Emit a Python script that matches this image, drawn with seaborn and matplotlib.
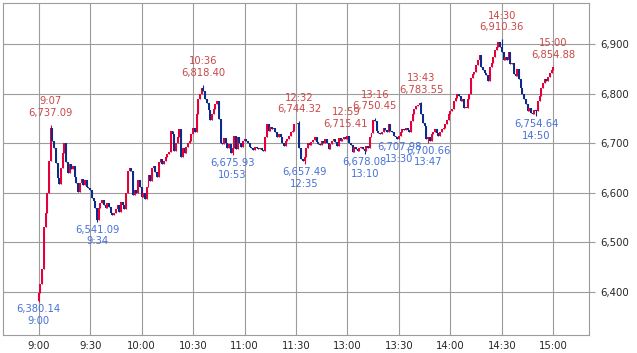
import seaborn as sns
import matplotlib.pyplot as plt
import numpy as np
import pandas as pd

# 1-minute prices (close of each minute)
first_open = 6382.0

# 9:00 - 11:29
closes_am = [
    6397, 6415, 6446, 6530, 6560, 6600, 6665, 6730, 6705, 6690,
    6660, 6630, 6618, 6650, 6680, 6700, 6662, 6640, 6658, 6648,
    6655, 6632, 6620, 6602, 6620, 6628, 6615, 6625, 6612, 6610,
    6606, 6590, 6584, 6570, 6545, 6570, 6580, 6585, 6575, 6570,
    6580, 6572, 6560, 6555, 6560, 6568, 6575, 6562, 6582, 6575,
    6568, 6600, 6645, 6650, 6645, 6595, 6605, 6600, 6625, 6612,
    6592, 6600, 6588, 6612, 6636, 6624, 6650, 6655, 6642, 6632,
    6662, 6668, 6658, 6664, 6672, 6678, 6682, 6725, 6718, 6685,
    6700, 6712, 6728, 6672, 6690, 6680, 6692, 6700, 6705, 6718,
    6730, 6722, 6760, 6790, 6800, 6812, 6805, 6790, 6782, 6768,
    6748, 6760, 6770, 6780, 6785, 6750, 6700, 6698, 6710, 6700,
    6690, 6698, 6680, 6690, 6715, 6688, 6712, 6700, 6692, 6705,
    6708, 6705, 6700, 6692, 6690, 6687, 6692, 6690, 6688, 6690,
    6686, 6684, 6712, 6738, 6725, 6732, 6728, 6730, 6722, 6712,
    6718, 6712, 6700, 6695, 6705, 6708, 6714, 6722, 6725, 6738,
]

# 12:30 - 15:00
closes_pm = [
    6740, 6742, 6690, 6668, 6665, 6672, 6690, 6700, 6696, 6702,
    6706, 6712, 6702, 6698, 6696, 6705, 6700, 6708, 6700, 6688,
    6698, 6705, 6708, 6702, 6695, 6710, 6704, 6708, 6712, 6708,
    6715, 6700, 6696, 6682, 6692, 6688, 6685, 6690, 6692, 6688,
    6684, 6694, 6690, 6712, 6720, 6748, 6745, 6725, 6720, 6718,
    6722, 6730, 6726, 6722, 6738, 6725, 6722, 6715, 6712, 6708,
    6715, 6722, 6728, 6726, 6730, 6726, 6722, 6745, 6760, 6770,
    6775, 6778, 6781, 6760, 6742, 6735, 6708, 6712, 6705, 6718,
    6722, 6728, 6720, 6715, 6722, 6728, 6730, 6740, 6748, 6760,
    6765, 6770, 6786, 6792, 6800, 6795, 6785, 6790, 6772, 6772,
    6790, 6800, 6832, 6840, 6845, 6858, 6868, 6878, 6855, 6848,
    6842, 6838, 6826, 6854, 6862, 6874, 6888, 6895, 6905, 6895,
    6885, 6868, 6875, 6868, 6885, 6860, 6862, 6840, 6836, 6850,
    6830, 6812, 6800, 6790, 6780, 6765, 6772, 6762, 6760, 6768,
    6766, 6786, 6795, 6812, 6822, 6830, 6825, 6835, 6842, 6848,
    6854.88,
]

tick_labels = ['9:00', '9:30', '10:00', '10:30', '11:00', '11:30',
               '13:00', '13:30', '14:00', '14:30', '15:00']

# high / low marks written on the chart
mark_times = ['9:00', '9:07', '9:34', '10:36', '10:53', '12:32', '12:35',
              '12:59', '13:10', '13:16', '13:30', '13:43', '13:47',
              '14:30', '14:50', '15:00']
mark_values = [6380.14, 6737.09, 6541.09, 6818.40, 6675.93, 6744.32, 6657.49,
               6715.41, 6678.08, 6750.45, 6707.98, 6783.55, 6700.66,
               6910.36, 6754.64, 6854.88]
mark_kinds = ['low', 'high', 'low', 'high', 'low', 'high', 'low',
              'high', 'low', 'high', 'low', 'high', 'low',
              'high', 'low', 'high']

UP = '#e5003c'
DOWN = '#0c2c8c'
UP_TXT = '#c94848'
DOWN_TXT = '#4671d8'
GRID = '#9c9c9c'


def to_pos(t):
    # lunch break is cut out: 12:30 follows 11:30
    h, m = map(int, t.split(':'))
    mins = h * 60 + m
    if mins <= 11 * 60 + 30:
        return mins - 9 * 60
    return mins - (12 * 60 + 30) + 150


df = pd.DataFrame({'close': closes_am + closes_pm})
df['pos'] = np.arange(len(df))
df['open'] = df['close'].shift(1).fillna(first_open)
df['high'] = df[['open', 'close']].max(axis=1)
df['low'] = df[['open', 'close']].min(axis=1)
for t, v, k in zip(mark_times, mark_values, mark_kinds):
    p = to_pos(t)
    if k == 'high':
        df.loc[p, 'high'] = max(df.loc[p, 'high'], v)
    else:
        df.loc[p, 'low'] = min(df.loc[p, 'low'], v)
df['up'] = df['close'] >= df['open']
colors = np.where(df['up'], UP, DOWN)

sns.set_style('white')
plt.rcParams['font.family'] = ['DejaVu Sans']

fig = plt.figure(figsize=(6.37, 3.53), dpi=100)
ax = fig.add_axes([0.0042, 0.051, 0.921, 0.9397])

ax.vlines(df['pos'], df['low'], df['high'], colors=colors, lw=0.8, zorder=3)
body = (df['close'] - df['open']).abs().clip(lower=1.5)
ax.bar(df['pos'], body, bottom=df[['open', 'close']].min(axis=1),
       width=1.15, color=colors, linewidth=0, zorder=3)

for t, v, k in zip(mark_times, mark_values, mark_kinds):
    p = to_pos(t)
    if k == 'high':
        ax.annotate(f'{t}\n{v:,.2f}', (p, v), xytext=(0, 5),
                    textcoords='offset points', ha='center', va='bottom',
                    fontsize=7.2, color=UP_TXT, linespacing=1.2, zorder=4)
    else:
        ax.annotate(f'{v:,.2f}\n{t}', (p, v), xytext=(0, -2),
                    textcoords='offset points', ha='center', va='top',
                    fontsize=7.2, color=DOWN_TXT, linespacing=1.2, zorder=4)

ax.set_xlim(-21, 321)
ax.set_ylim(6312.5, 6983)
ax.set_xticks(range(0, 301, 30))
ax.set_xticklabels(tick_labels)
yt = [6400, 6500, 6600, 6700, 6800, 6900]
ax.set_yticks(yt)
ax.set_yticklabels([f'{v:,}' for v in yt])
ax.yaxis.tick_right()
ax.tick_params(axis='y', length=4, color=GRID, pad=4, labelsize=7.3)
ax.tick_params(axis='x', length=0, pad=4, labelsize=7.3)
ax.grid(True, color=GRID, lw=0.8, zorder=0)
for s in ax.spines.values():
    s.set_color(GRID)
    s.set_linewidth(0.8)

fig.savefig('out.png', dpi=100)
